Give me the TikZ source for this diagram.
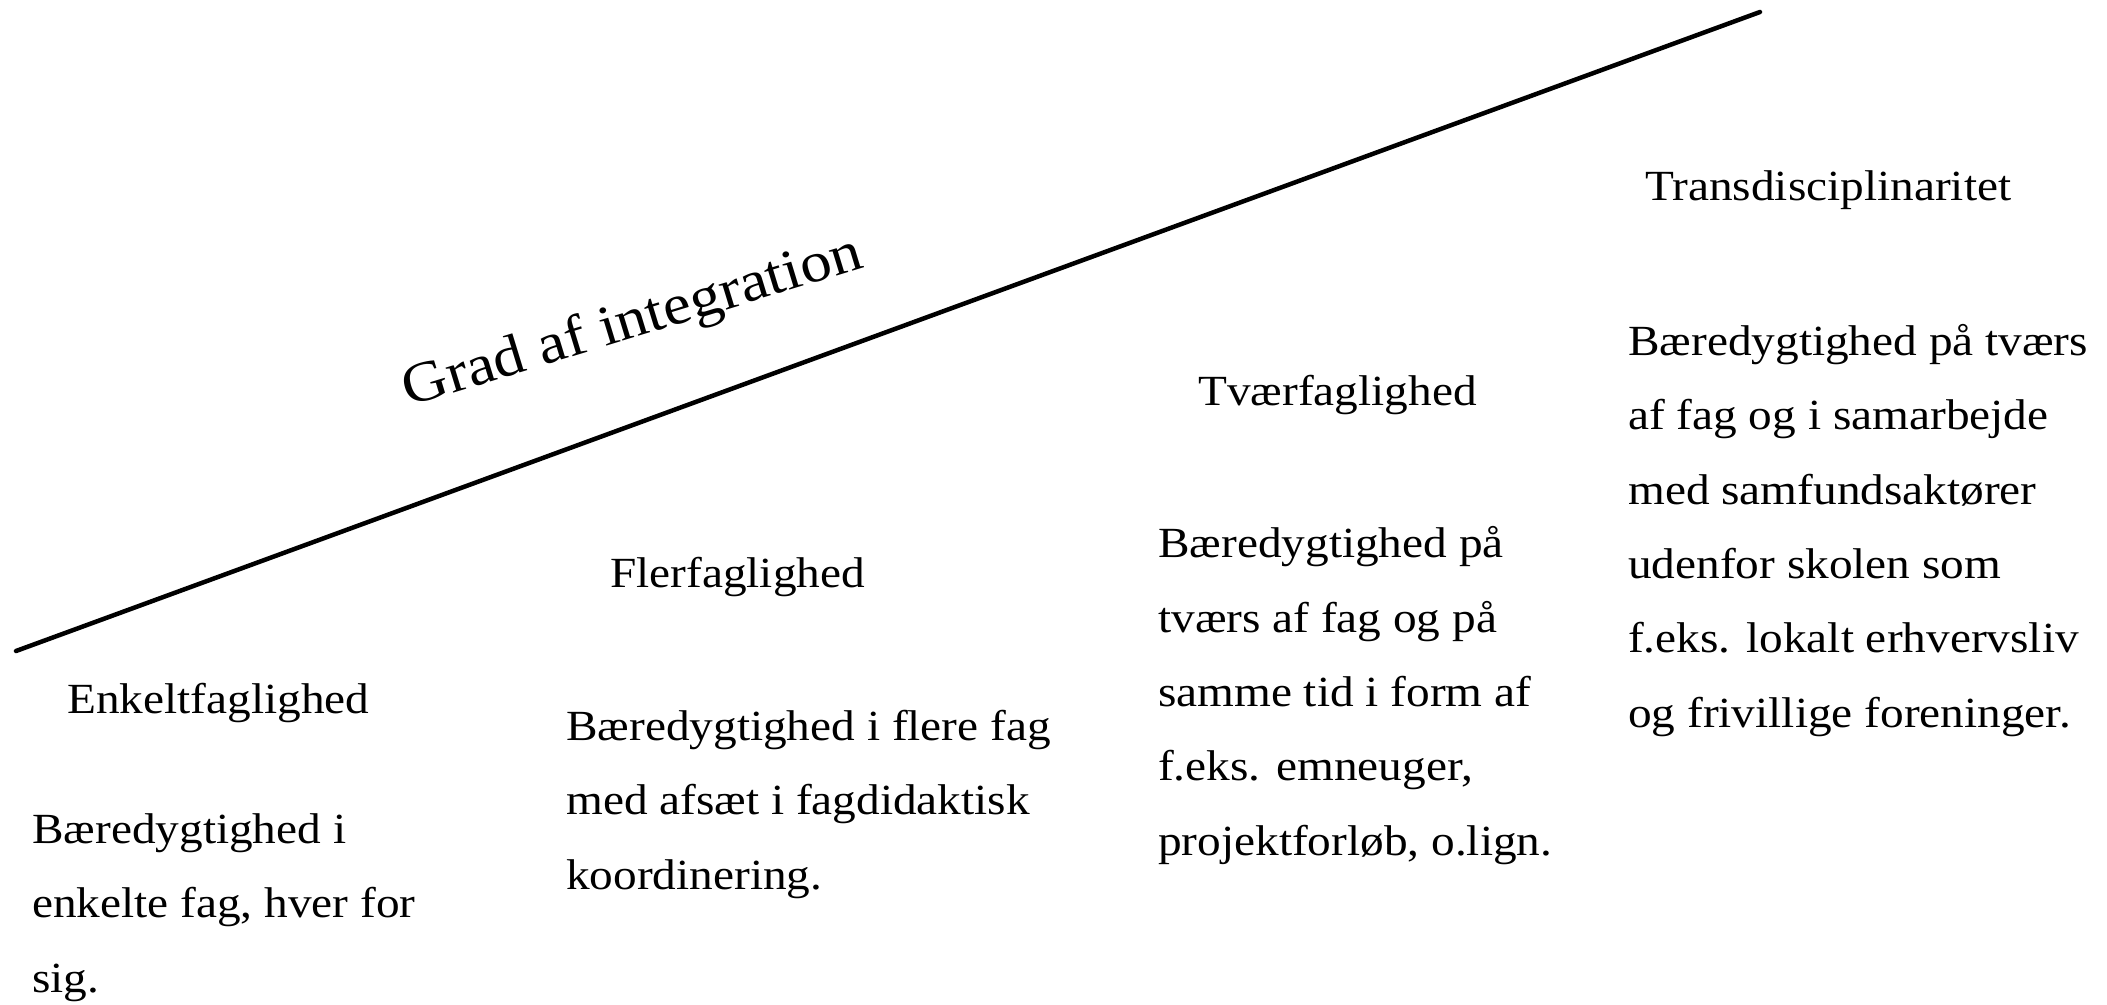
\documentclass[tikz,border=0pt]{standalone}
\usepackage{fontspec}
\setmainfont{Liberation Serif}[FakeStretch=1.1]
\begin{document}
\begin{tikzpicture}[x=1pt,y=-1pt,
  txt/.style={anchor=base west,inner sep=0pt,align=left,font=\fontsize{43}{74.3}\selectfont},
  head/.style={anchor=base west,inner sep=0pt,font=\fontsize{43}{74.3}\selectfont},
  axisline/.style={line width=4.5pt,line cap=round}]
\useasboundingbox (0,0) rectangle (2107,1004);
\coordinate (lo) at (16,651);
\coordinate (hi) at (1760,12);
\draw[axisline] (lo) -- (hi);
\node[anchor=base,inner sep=0pt,rotate=17,font=\fontsize{57}{60}\selectfont] (grad) at (637,337) {Grad af integration};
\node[head] (h1) at (67,713) {Enkeltfaglighed};
\node[head] (h2) at (610,587) {Flerfaglighed};
\node[head] (h3) at (1198,405) {Tværfaglighed};
\node[head] (h4) at (1645,200) {Transdisciplinaritet};
% base anchor = baseline of the last line
\node[txt] (b1) at (32,992) {Bæredygtighed i\\enkelte fag, hver for\\sig.};
\node[txt] (b2) at (566,889) {Bæredygtighed i flere fag\\med afsæt i fagdidaktisk\\koordinering.};
\node[txt] (b3) at (1158,855) {Bæredygtighed på\\tværs af fag og på\\samme tid i form af\\f.eks. emneuger,\\projektforløb, o.lign.};
\node[txt] (b4) at (1628,727) {Bæredygtighed på tværs\\af fag og i samarbejde\\med samfundsaktører\\udenfor skolen som\\f.eks. lokalt erhvervsliv\\og frivillige foreninger.};
\end{tikzpicture}
\end{document}
